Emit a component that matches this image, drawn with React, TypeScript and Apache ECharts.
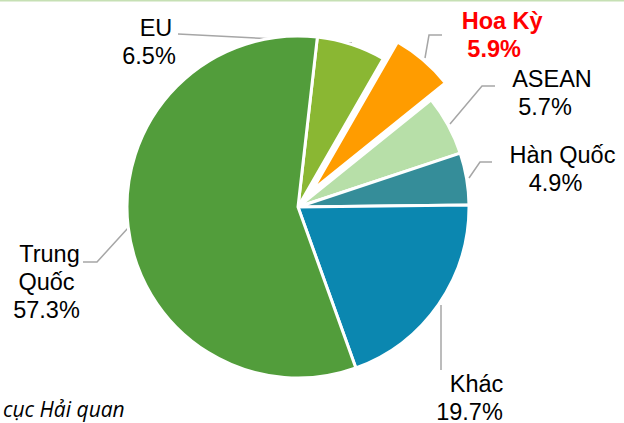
import React, { useEffect, useRef } from "react";
import * as echarts from "echarts";

// ---- data ----
const categories = ["EU", "Hoa Kỳ", "ASEAN", "Hàn Quốc", "Khác", "Trung Quốc"];
const shares = [6.5, 5.9, 5.7, 4.9, 19.7, 57.3];
const sliceColors = ["#8ab733", "#ff9c00", "#b7dfa8", "#358d99", "#0b87b0", "#529d3b"];
const explodedCategory = "Hoa Kỳ";
const sourceNote = "cục Hải quan";

// ---- label placement (layout only) ----
const labelPlacement: { x: number; y: number; line: number[][] }[] = [
  { x: 149, y: 41.5, line: [[178, 34], [265, 38.5], [352, 43]] },
  { x: 493, y: 35, line: [[442, 35], [429, 35], [425, 58]] },
  { x: 545, y: 93, line: [[495, 86], [482, 86], [450, 124]] },
  { x: 555.5, y: 168.5, line: [[492, 162], [480, 162], [469, 178]] },
  { x: 469.5, y: 398, line: [[441, 370], [441, 337], [441, 305]] },
  { x: 46.5, y: 282, line: [[83, 262], [97, 262], [128, 228]] },
];
const SELECTED_OFFSET = 22;
const START_ANGLE = 83.5;

const FONT = "'Liberation Sans', Arial, sans-serif";

export default function App() {
  const ref = useRef<HTMLDivElement>(null);
  useEffect(() => {
    if (!ref.current) return;
    const chart = echarts.init(ref.current, undefined, { renderer: "svg" });
    const total = shares.reduce((a, b) => a + b, 0);
    let acc = 90 - START_ANGLE;
    const midAngles = shares.map((v) => {
      const a = acc + (v / total) * 180;
      acc += (v / total) * 360;
      return a;
    });
    const baseRich = {
      fontFamily: FONT,
      fontSize: 23.5,
      lineHeight: 28,
      color: "#000",
    };
    const makeRich = (color: string, weight: string, exploded: boolean) => ({
      // the exploded label keeps the position the select state gives it,
      // so its glyphs are nudged with padding and a spacer line instead
      n: {
        ...baseRich,
        color,
        fontWeight: weight,
        padding: exploded ? [0, 0, 0, 68] : [0, 0, 0, 14],
      },
      t: { ...baseRich, color, fontWeight: weight, padding: [0, 0, 0, 6] },
      q: { ...baseRich, color, fontWeight: weight },
      p: {
        ...baseRich,
        color,
        fontWeight: weight,
        padding: exploded ? [0, 0, 0, 52] : [0, 0, 0, 0],
      },
      e: { ...baseRich, lineHeight: 27 },
    });
    const data = categories.map((name, i) => {
      const isEx = name === explodedCategory;
      return {
        name,
        value: shares[i],
        selected: isEx,
        itemStyle: { color: sliceColors[i] },
        select: { itemStyle: { color: sliceColors[i] } },
        label: isEx
          ? { color: "#ff0000", rich: makeRich("#ff0000", "bold", true) }
          : { rich: makeRich("#000000", "normal", false) },
      };
    });
    chart.setOption({
      animation: false,
      backgroundColor: "#ffffff",
      graphic: [
        {
          type: "rect",
          left: 0,
          top: 0,
          shape: { width: 624, height: 1.5 },
          style: { fill: "#c6e0b4" },
        },
        {
          type: "text",
          left: 3,
          top: 398,
          style: {
            text: sourceNote,
            font: "italic 21px 'Open Sans', Calibri, sans-serif",
            fill: "#000",
          },
        },
      ],
      series: [
        {
          type: "pie",
          center: [298, 207],
          radius: 171,
          startAngle: START_ANGLE,
          clockwise: true,
          selectedMode: "single",
          selectedOffset: SELECTED_OFFSET,
          avoidLabelOverlap: false,
          itemStyle: { borderColor: "#ffffff", borderWidth: 3 },
          emphasis: { disabled: true },
          label: {
            show: true,
            position: "outside",
            formatter: (p: any) => {
              const pct = Number(p.value).toFixed(1) + "%";
              if (p.name === "Trung Quốc") {
                return "{t|Trung}\n{q|Quốc}\n{p|" + pct + "}";
              }
              if (p.name === explodedCategory) {
                return "{n|" + p.name + "}\n{p|" + pct + "}\n{e| }";
              }
              return "{n|" + p.name + "}\n{p|" + pct + "}";
            },
          },
          labelLine: {
            show: true,
            lineStyle: { color: "#a6a6a6", width: 1.5 },
          },
          labelLayout: (params: any) => {
            const i = params.dataIndex;
            const pl = labelPlacement[i];
            let pts = pl.line;
            if (categories[i] === explodedCategory) {
              const r = (midAngles[i] * Math.PI) / 180;
              const dx = SELECTED_OFFSET * Math.sin(r);
              const dy = -SELECTED_OFFSET * Math.cos(r);
              pts = pts.map(([px, py]) => [px - dx, py - dy]);
            }
            return {
              x: pl.x,
              y: pl.y,
              align: "center",
              verticalAlign: "middle",
              labelLinePoints: pts,
            };
          },
          data,
        },
      ],
    });
    return () => chart.dispose();
  }, []);
  return (
    <div
      ref={ref}
      style={{ position: "fixed", left: 0, top: 0, width: 624, height: 423 }}
    />
  );
}
